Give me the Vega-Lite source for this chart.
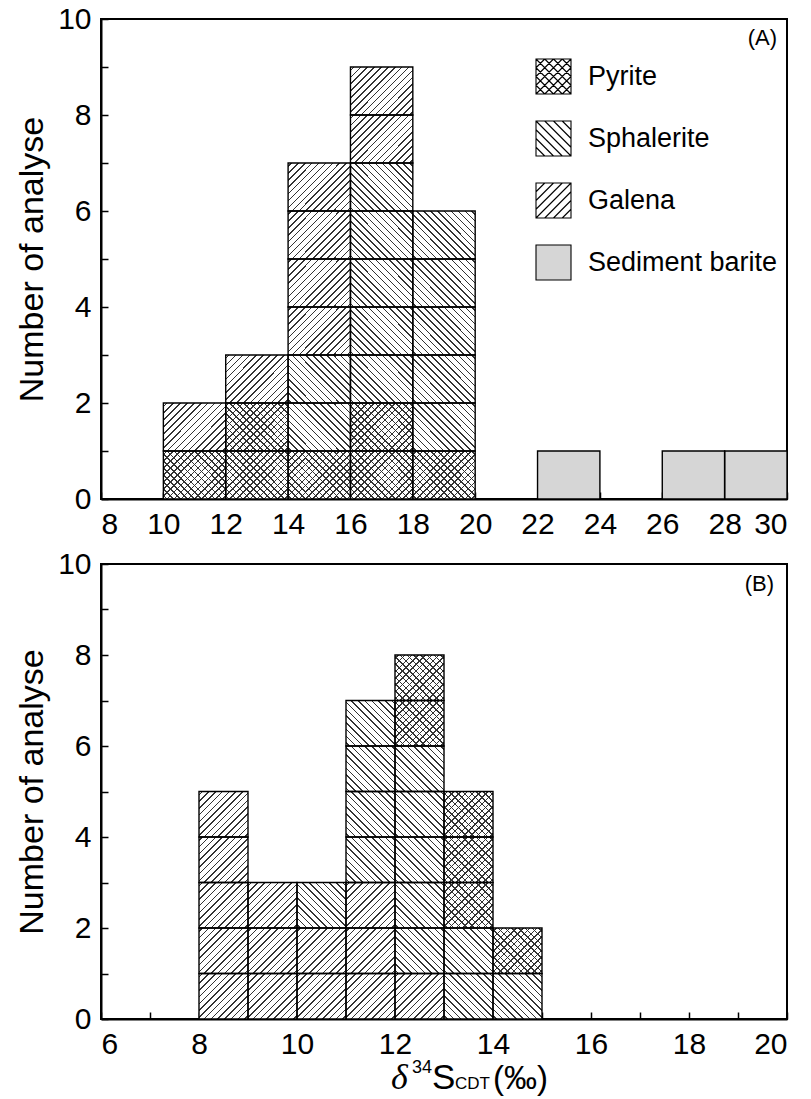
{
  "$schema": "https://vega.github.io/schema/vega-lite/v6.json",
  "padding": {"left": 14, "top": 3, "right": 0, "bottom": 0},
  "spacing": 8,
  "config": {
    "font": "Liberation Sans",
    "view": {"stroke": "black", "strokeWidth": 2},
    "axis": {
      "grid": false,
      "labelFont": "Liberation Sans",
      "labelFontSize": 30,
      "labelColor": "black",
      "titleFont": "Liberation Sans",
      "titleFontSize": 34,
      "titleFontWeight": "normal",
      "titleColor": "black",
      "domainColor": "black",
      "domainWidth": 2,
      "tickColor": "black",
      "tickWidth": 1.5,
      "tickSize": -7,
      "labelPadding": 17,
      "titlePadding": 8,
      "labelOverlap": false
    }
  },
  "vconcat": [
    {
      "width": 686,
      "height": 480,
      "layer": [
        {
          "data": {"values": [
            {"lo": 10, "hi": 12, "mineral": "Pyrite", "n": 1},
            {"lo": 10, "hi": 12, "mineral": "Galena", "n": 1},
            {"lo": 12, "hi": 14, "mineral": "Pyrite", "n": 1},
            {"lo": 12, "hi": 14, "mineral": "Pyrite", "n": 1},
            {"lo": 12, "hi": 14, "mineral": "Galena", "n": 1},
            {"lo": 14, "hi": 16, "mineral": "Pyrite", "n": 1},
            {"lo": 14, "hi": 16, "mineral": "Sphalerite", "n": 1},
            {"lo": 14, "hi": 16, "mineral": "Sphalerite", "n": 1},
            {"lo": 14, "hi": 16, "mineral": "Galena", "n": 1},
            {"lo": 14, "hi": 16, "mineral": "Galena", "n": 1},
            {"lo": 14, "hi": 16, "mineral": "Galena", "n": 1},
            {"lo": 14, "hi": 16, "mineral": "Galena", "n": 1},
            {"lo": 16, "hi": 18, "mineral": "Pyrite", "n": 1},
            {"lo": 16, "hi": 18, "mineral": "Pyrite", "n": 1},
            {"lo": 16, "hi": 18, "mineral": "Sphalerite", "n": 1},
            {"lo": 16, "hi": 18, "mineral": "Sphalerite", "n": 1},
            {"lo": 16, "hi": 18, "mineral": "Sphalerite", "n": 1},
            {"lo": 16, "hi": 18, "mineral": "Sphalerite", "n": 1},
            {"lo": 16, "hi": 18, "mineral": "Sphalerite", "n": 1},
            {"lo": 16, "hi": 18, "mineral": "Galena", "n": 1},
            {"lo": 16, "hi": 18, "mineral": "Galena", "n": 1},
            {"lo": 18, "hi": 20, "mineral": "Pyrite", "n": 1},
            {"lo": 18, "hi": 20, "mineral": "Sphalerite", "n": 1},
            {"lo": 18, "hi": 20, "mineral": "Sphalerite", "n": 1},
            {"lo": 18, "hi": 20, "mineral": "Sphalerite", "n": 1},
            {"lo": 18, "hi": 20, "mineral": "Sphalerite", "n": 1},
            {"lo": 18, "hi": 20, "mineral": "Sphalerite", "n": 1},
            {"lo": 22, "hi": 24, "mineral": "Sediment barite", "n": 1},
            {"lo": 26, "hi": 28, "mineral": "Sediment barite", "n": 1},
            {"lo": 28, "hi": 30, "mineral": "Sediment barite", "n": 1}
          ]},
          "transform": [
            {"calculate": "indexof(['Pyrite','Sphalerite','Galena','Sediment barite'], datum.mineral)", "as": "rank"},
            {"stack": "n", "groupby": ["lo"], "sort": [{"field": "rank", "order": "ascending"}], "as": ["y0", "y1"]}
          ],
          "encoding": {
            "x": {"field": "lo", "type": "quantitative", "scale": {"domain": [8, 30], "nice": false, "zero": false},
                  "axis": {"values": [8, 10, 12, 14, 16, 18, 20, 22, 24, 26, 28, 30], "title": null}},
            "x2": {"field": "hi"},
            "y": {"field": "y0", "type": "quantitative", "scale": {"domain": [0, 10], "nice": false},
                  "axis": {"values": [0, 1, 2, 3, 4, 5, 6, 7, 8, 9, 10], "labelExpr": "datum.value % 2 === 0 ? datum.label : ''", "title": "Number of analyse"}},
            "y2": {"field": "y1"}
          },
          "layer": [
            {
              "mark": {"type": "bar", "strokeWidth": 0},
              "encoding": {
                "fill": {"field": "mineral", "type": "nominal",
                  "scale": {"domain": ["Pyrite", "Sphalerite", "Galena", "Sediment barite"], "range": ["white", "white", "white", "#d6d6d6"]},
                  "legend": {
                    "orient": "top-right",
                    "offset": 9,
                    "padding": 0,
                    "title": "(A)",
                    "titleAnchor": "end",
                    "titleAlign": "right",
                    "titleFont": "Liberation Sans",
                    "titleFontSize": 22,
                    "titleFontWeight": "normal",
                    "titleColor": "black",
                    "titlePadding": 8,
                    "labelFont": "Liberation Sans",
                    "labelFontSize": 27,
                    "labelColor": "black",
                    "labelLimit": 400,
                    "labelOffset": 16,
                    "rowPadding": 21,
                    "symbolSize": 1225,
                    "symbolStrokeColor": "black",
                    "symbolStrokeWidth": 1.1,
                    "encode": {
                      "symbols": {"update": {"shape": {"signal": "datum.value === 'Pyrite' ? 'M-1,-1L1,-1L1,1L-1,1ZM-0.5,-1L-1,-0.5M0,-1L-1,0M0.5,-1L-1,0.5M1,-1L-1,1M1,-0.5L-0.5,1M1,0L0,1M1,0.5L0.5,1M-1,0.5L-0.5,1M-1,0L0,1M-1,-0.5L0.5,1M-1,-1L1,1M-0.5,-1L1,0.5M0,-1L1,0M0.5,-1L1,-0.5' : datum.value === 'Sphalerite' ? 'M-1,-1L1,-1L1,1L-1,1ZM-1,0.5L-0.5,1M-1,0L0,1M-1,-0.5L0.5,1M-1,-1L1,1M-0.5,-1L1,0.5M0,-1L1,0M0.5,-1L1,-0.5' : datum.value === 'Galena' ? 'M-1,-1L1,-1L1,1L-1,1ZM-0.5,-1L-1,-0.5M0,-1L-1,0M0.5,-1L-1,0.5M1,-1L-1,1M1,-0.5L-0.5,1M1,0L0,1M1,0.5L0.5,1' : 'M-1,-1L1,-1L1,1L-1,1Z'"}}}
                    }
                  }
                }
              }
            },
            {
              "transform": [{"filter": "datum.mineral === 'Galena' || datum.mineral === 'Pyrite'"}],
              "mark": {"type": "bar", "strokeWidth": 0, "fill": {"gradient": "linear", "x1": 0, "y1": 0, "x2": 1.1123, "y2": 0.8536, "stops": [
                {"offset": 0.0243, "color": "transparent"}, {"offset": 0.0243, "color": "#333"}, {"offset": 0.0383, "color": "#333"}, {"offset": 0.0383, "color": "transparent"},
                {"offset": 0.0868, "color": "transparent"}, {"offset": 0.0868, "color": "#333"}, {"offset": 0.1008, "color": "#333"}, {"offset": 0.1008, "color": "transparent"},
                {"offset": 0.1493, "color": "transparent"}, {"offset": 0.1493, "color": "#333"}, {"offset": 0.1633, "color": "#333"}, {"offset": 0.1633, "color": "transparent"},
                {"offset": 0.2118, "color": "transparent"}, {"offset": 0.2118, "color": "#333"}, {"offset": 0.2258, "color": "#333"}, {"offset": 0.2258, "color": "transparent"},
                {"offset": 0.2743, "color": "transparent"}, {"offset": 0.2743, "color": "#333"}, {"offset": 0.2883, "color": "#333"}, {"offset": 0.2883, "color": "transparent"},
                {"offset": 0.3368, "color": "transparent"}, {"offset": 0.3368, "color": "#333"}, {"offset": 0.3508, "color": "#333"}, {"offset": 0.3508, "color": "transparent"},
                {"offset": 0.3993, "color": "transparent"}, {"offset": 0.3993, "color": "#333"}, {"offset": 0.4133, "color": "#333"}, {"offset": 0.4133, "color": "transparent"},
                {"offset": 0.4618, "color": "transparent"}, {"offset": 0.4618, "color": "#333"}, {"offset": 0.4758, "color": "#333"}, {"offset": 0.4758, "color": "transparent"},
                {"offset": 0.5243, "color": "transparent"}, {"offset": 0.5243, "color": "#333"}, {"offset": 0.5383, "color": "#333"}, {"offset": 0.5383, "color": "transparent"},
                {"offset": 0.5868, "color": "transparent"}, {"offset": 0.5868, "color": "#333"}, {"offset": 0.6008, "color": "#333"}, {"offset": 0.6008, "color": "transparent"},
                {"offset": 0.6493, "color": "transparent"}, {"offset": 0.6493, "color": "#333"}, {"offset": 0.6633, "color": "#333"}, {"offset": 0.6633, "color": "transparent"},
                {"offset": 0.7118, "color": "transparent"}, {"offset": 0.7118, "color": "#333"}, {"offset": 0.7258, "color": "#333"}, {"offset": 0.7258, "color": "transparent"},
                {"offset": 0.7743, "color": "transparent"}, {"offset": 0.7743, "color": "#333"}, {"offset": 0.7883, "color": "#333"}, {"offset": 0.7883, "color": "transparent"},
                {"offset": 0.8368, "color": "transparent"}, {"offset": 0.8368, "color": "#333"}, {"offset": 0.8508, "color": "#333"}, {"offset": 0.8508, "color": "transparent"},
                {"offset": 0.8993, "color": "transparent"}, {"offset": 0.8993, "color": "#333"}, {"offset": 0.9133, "color": "#333"}, {"offset": 0.9133, "color": "transparent"},
                {"offset": 0.9618, "color": "transparent"}, {"offset": 0.9618, "color": "#333"}, {"offset": 0.9758, "color": "#333"}, {"offset": 0.9758, "color": "transparent"}
              ]}}
            },
            {
              "transform": [{"filter": "datum.mineral === 'Sphalerite' || datum.mineral === 'Pyrite'"}],
              "mark": {"type": "bar", "strokeWidth": 0, "fill": {"gradient": "linear", "x1": 0, "y1": 1, "x2": 1.1123, "y2": 0.1464, "stops": [
                {"offset": 0.0243, "color": "transparent"}, {"offset": 0.0243, "color": "#333"}, {"offset": 0.0383, "color": "#333"}, {"offset": 0.0383, "color": "transparent"},
                {"offset": 0.0868, "color": "transparent"}, {"offset": 0.0868, "color": "#333"}, {"offset": 0.1008, "color": "#333"}, {"offset": 0.1008, "color": "transparent"},
                {"offset": 0.1493, "color": "transparent"}, {"offset": 0.1493, "color": "#333"}, {"offset": 0.1633, "color": "#333"}, {"offset": 0.1633, "color": "transparent"},
                {"offset": 0.2118, "color": "transparent"}, {"offset": 0.2118, "color": "#333"}, {"offset": 0.2258, "color": "#333"}, {"offset": 0.2258, "color": "transparent"},
                {"offset": 0.2743, "color": "transparent"}, {"offset": 0.2743, "color": "#333"}, {"offset": 0.2883, "color": "#333"}, {"offset": 0.2883, "color": "transparent"},
                {"offset": 0.3368, "color": "transparent"}, {"offset": 0.3368, "color": "#333"}, {"offset": 0.3508, "color": "#333"}, {"offset": 0.3508, "color": "transparent"},
                {"offset": 0.3993, "color": "transparent"}, {"offset": 0.3993, "color": "#333"}, {"offset": 0.4133, "color": "#333"}, {"offset": 0.4133, "color": "transparent"},
                {"offset": 0.4618, "color": "transparent"}, {"offset": 0.4618, "color": "#333"}, {"offset": 0.4758, "color": "#333"}, {"offset": 0.4758, "color": "transparent"},
                {"offset": 0.5243, "color": "transparent"}, {"offset": 0.5243, "color": "#333"}, {"offset": 0.5383, "color": "#333"}, {"offset": 0.5383, "color": "transparent"},
                {"offset": 0.5868, "color": "transparent"}, {"offset": 0.5868, "color": "#333"}, {"offset": 0.6008, "color": "#333"}, {"offset": 0.6008, "color": "transparent"},
                {"offset": 0.6493, "color": "transparent"}, {"offset": 0.6493, "color": "#333"}, {"offset": 0.6633, "color": "#333"}, {"offset": 0.6633, "color": "transparent"},
                {"offset": 0.7118, "color": "transparent"}, {"offset": 0.7118, "color": "#333"}, {"offset": 0.7258, "color": "#333"}, {"offset": 0.7258, "color": "transparent"},
                {"offset": 0.7743, "color": "transparent"}, {"offset": 0.7743, "color": "#333"}, {"offset": 0.7883, "color": "#333"}, {"offset": 0.7883, "color": "transparent"},
                {"offset": 0.8368, "color": "transparent"}, {"offset": 0.8368, "color": "#333"}, {"offset": 0.8508, "color": "#333"}, {"offset": 0.8508, "color": "transparent"},
                {"offset": 0.8993, "color": "transparent"}, {"offset": 0.8993, "color": "#333"}, {"offset": 0.9133, "color": "#333"}, {"offset": 0.9133, "color": "transparent"},
                {"offset": 0.9618, "color": "transparent"}, {"offset": 0.9618, "color": "#333"}, {"offset": 0.9758, "color": "#333"}, {"offset": 0.9758, "color": "transparent"}
              ]}}
            },
            {
              "mark": {"type": "bar", "fill": "transparent", "stroke": "black", "strokeWidth": 1.4}
            }
          ]
        }
      ]
    },
    {
      "width": 686,
      "height": 455,
      "layer": [
        {
          "data": {"values": [
            {"lo": 8, "hi": 9, "mineral": "Galena", "n": 1},
            {"lo": 8, "hi": 9, "mineral": "Galena", "n": 1},
            {"lo": 8, "hi": 9, "mineral": "Galena", "n": 1},
            {"lo": 8, "hi": 9, "mineral": "Galena", "n": 1},
            {"lo": 8, "hi": 9, "mineral": "Galena", "n": 1},
            {"lo": 9, "hi": 10, "mineral": "Galena", "n": 1},
            {"lo": 9, "hi": 10, "mineral": "Galena", "n": 1},
            {"lo": 9, "hi": 10, "mineral": "Galena", "n": 1},
            {"lo": 10, "hi": 11, "mineral": "Galena", "n": 1},
            {"lo": 10, "hi": 11, "mineral": "Galena", "n": 1},
            {"lo": 10, "hi": 11, "mineral": "Sphalerite", "n": 1},
            {"lo": 11, "hi": 12, "mineral": "Galena", "n": 1},
            {"lo": 11, "hi": 12, "mineral": "Galena", "n": 1},
            {"lo": 11, "hi": 12, "mineral": "Galena", "n": 1},
            {"lo": 11, "hi": 12, "mineral": "Sphalerite", "n": 1},
            {"lo": 11, "hi": 12, "mineral": "Sphalerite", "n": 1},
            {"lo": 11, "hi": 12, "mineral": "Sphalerite", "n": 1},
            {"lo": 11, "hi": 12, "mineral": "Sphalerite", "n": 1},
            {"lo": 12, "hi": 13, "mineral": "Galena", "n": 1},
            {"lo": 12, "hi": 13, "mineral": "Sphalerite", "n": 1},
            {"lo": 12, "hi": 13, "mineral": "Sphalerite", "n": 1},
            {"lo": 12, "hi": 13, "mineral": "Sphalerite", "n": 1},
            {"lo": 12, "hi": 13, "mineral": "Sphalerite", "n": 1},
            {"lo": 12, "hi": 13, "mineral": "Sphalerite", "n": 1},
            {"lo": 12, "hi": 13, "mineral": "Pyrite", "n": 1},
            {"lo": 12, "hi": 13, "mineral": "Pyrite", "n": 1},
            {"lo": 13, "hi": 14, "mineral": "Sphalerite", "n": 1},
            {"lo": 13, "hi": 14, "mineral": "Sphalerite", "n": 1},
            {"lo": 13, "hi": 14, "mineral": "Pyrite", "n": 1},
            {"lo": 13, "hi": 14, "mineral": "Pyrite", "n": 1},
            {"lo": 13, "hi": 14, "mineral": "Pyrite", "n": 1},
            {"lo": 14, "hi": 15, "mineral": "Sphalerite", "n": 1},
            {"lo": 14, "hi": 15, "mineral": "Pyrite", "n": 1}
          ]},
          "transform": [
            {"calculate": "indexof(['Galena','Sphalerite','Pyrite'], datum.mineral)", "as": "rank"},
            {"stack": "n", "groupby": ["lo"], "sort": [{"field": "rank", "order": "ascending"}], "as": ["y0", "y1"]}
          ],
          "encoding": {
            "x": {"field": "lo", "type": "quantitative", "scale": {"domain": [6, 20], "nice": false, "zero": false},
                  "axis": {"values": [6, 7, 8, 9, 10, 11, 12, 13, 14, 15, 16, 17, 18, 19, 20], "labelExpr": "datum.value % 2 === 0 ? datum.label : ''", "title": null}},
            "x2": {"field": "hi"},
            "y": {"field": "y0", "type": "quantitative", "scale": {"domain": [0, 10], "nice": false},
                  "axis": {"values": [0, 1, 2, 3, 4, 5, 6, 7, 8, 9, 10], "labelExpr": "datum.value % 2 === 0 ? datum.label : ''", "title": "Number of analyse"}},
            "y2": {"field": "y1"}
          },
          "layer": [
            {"mark": {"type": "bar", "fill": "white", "strokeWidth": 0}},
            {
              "transform": [{"filter": "datum.mineral === 'Galena' || datum.mineral === 'Pyrite'"}],
              "mark": {"type": "bar", "strokeWidth": 0, "fill": {"gradient": "linear", "x1": 0, "y1": 0, "x2": 1.0369, "y2": 0.9601, "stops": [
                {"offset": 0.0275, "color": "transparent"}, {"offset": 0.0275, "color": "#333"}, {"offset": 0.0439, "color": "#333"}, {"offset": 0.0439, "color": "transparent"},
                {"offset": 0.0989, "color": "transparent"}, {"offset": 0.0989, "color": "#333"}, {"offset": 0.1153, "color": "#333"}, {"offset": 0.1153, "color": "transparent"},
                {"offset": 0.1704, "color": "transparent"}, {"offset": 0.1704, "color": "#333"}, {"offset": 0.1868, "color": "#333"}, {"offset": 0.1868, "color": "transparent"},
                {"offset": 0.2418, "color": "transparent"}, {"offset": 0.2418, "color": "#333"}, {"offset": 0.2582, "color": "#333"}, {"offset": 0.2582, "color": "transparent"},
                {"offset": 0.3132, "color": "transparent"}, {"offset": 0.3132, "color": "#333"}, {"offset": 0.3296, "color": "#333"}, {"offset": 0.3296, "color": "transparent"},
                {"offset": 0.3847, "color": "transparent"}, {"offset": 0.3847, "color": "#333"}, {"offset": 0.4011, "color": "#333"}, {"offset": 0.4011, "color": "transparent"},
                {"offset": 0.4561, "color": "transparent"}, {"offset": 0.4561, "color": "#333"}, {"offset": 0.4725, "color": "#333"}, {"offset": 0.4725, "color": "transparent"},
                {"offset": 0.5275, "color": "transparent"}, {"offset": 0.5275, "color": "#333"}, {"offset": 0.5439, "color": "#333"}, {"offset": 0.5439, "color": "transparent"},
                {"offset": 0.5989, "color": "transparent"}, {"offset": 0.5989, "color": "#333"}, {"offset": 0.6153, "color": "#333"}, {"offset": 0.6153, "color": "transparent"},
                {"offset": 0.6704, "color": "transparent"}, {"offset": 0.6704, "color": "#333"}, {"offset": 0.6868, "color": "#333"}, {"offset": 0.6868, "color": "transparent"},
                {"offset": 0.7418, "color": "transparent"}, {"offset": 0.7418, "color": "#333"}, {"offset": 0.7582, "color": "#333"}, {"offset": 0.7582, "color": "transparent"},
                {"offset": 0.8132, "color": "transparent"}, {"offset": 0.8132, "color": "#333"}, {"offset": 0.8296, "color": "#333"}, {"offset": 0.8296, "color": "transparent"},
                {"offset": 0.8847, "color": "transparent"}, {"offset": 0.8847, "color": "#333"}, {"offset": 0.9011, "color": "#333"}, {"offset": 0.9011, "color": "transparent"},
                {"offset": 0.9561, "color": "transparent"}, {"offset": 0.9561, "color": "#333"}, {"offset": 0.9725, "color": "#333"}, {"offset": 0.9725, "color": "transparent"}
              ]}}
            },
            {
              "transform": [{"filter": "datum.mineral === 'Sphalerite' || datum.mineral === 'Pyrite'"}],
              "mark": {"type": "bar", "strokeWidth": 0, "fill": {"gradient": "linear", "x1": 0, "y1": 1, "x2": 1.0369, "y2": 0.0399, "stops": [
                {"offset": 0.0275, "color": "transparent"}, {"offset": 0.0275, "color": "#333"}, {"offset": 0.0439, "color": "#333"}, {"offset": 0.0439, "color": "transparent"},
                {"offset": 0.0989, "color": "transparent"}, {"offset": 0.0989, "color": "#333"}, {"offset": 0.1153, "color": "#333"}, {"offset": 0.1153, "color": "transparent"},
                {"offset": 0.1704, "color": "transparent"}, {"offset": 0.1704, "color": "#333"}, {"offset": 0.1868, "color": "#333"}, {"offset": 0.1868, "color": "transparent"},
                {"offset": 0.2418, "color": "transparent"}, {"offset": 0.2418, "color": "#333"}, {"offset": 0.2582, "color": "#333"}, {"offset": 0.2582, "color": "transparent"},
                {"offset": 0.3132, "color": "transparent"}, {"offset": 0.3132, "color": "#333"}, {"offset": 0.3296, "color": "#333"}, {"offset": 0.3296, "color": "transparent"},
                {"offset": 0.3847, "color": "transparent"}, {"offset": 0.3847, "color": "#333"}, {"offset": 0.4011, "color": "#333"}, {"offset": 0.4011, "color": "transparent"},
                {"offset": 0.4561, "color": "transparent"}, {"offset": 0.4561, "color": "#333"}, {"offset": 0.4725, "color": "#333"}, {"offset": 0.4725, "color": "transparent"},
                {"offset": 0.5275, "color": "transparent"}, {"offset": 0.5275, "color": "#333"}, {"offset": 0.5439, "color": "#333"}, {"offset": 0.5439, "color": "transparent"},
                {"offset": 0.5989, "color": "transparent"}, {"offset": 0.5989, "color": "#333"}, {"offset": 0.6153, "color": "#333"}, {"offset": 0.6153, "color": "transparent"},
                {"offset": 0.6704, "color": "transparent"}, {"offset": 0.6704, "color": "#333"}, {"offset": 0.6868, "color": "#333"}, {"offset": 0.6868, "color": "transparent"},
                {"offset": 0.7418, "color": "transparent"}, {"offset": 0.7418, "color": "#333"}, {"offset": 0.7582, "color": "#333"}, {"offset": 0.7582, "color": "transparent"},
                {"offset": 0.8132, "color": "transparent"}, {"offset": 0.8132, "color": "#333"}, {"offset": 0.8296, "color": "#333"}, {"offset": 0.8296, "color": "transparent"},
                {"offset": 0.8847, "color": "transparent"}, {"offset": 0.8847, "color": "#333"}, {"offset": 0.9011, "color": "#333"}, {"offset": 0.9011, "color": "transparent"},
                {"offset": 0.9561, "color": "transparent"}, {"offset": 0.9561, "color": "#333"}, {"offset": 0.9725, "color": "#333"}, {"offset": 0.9725, "color": "transparent"}
              ]}}
            },
            {"mark": {"type": "bar", "fill": "transparent", "stroke": "black", "strokeWidth": 1.4}}
          ]
        },
        {
          "data": {"values": [{}]},
          "mark": {"type": "text", "text": "(B)", "font": "Liberation Sans", "fontSize": 22, "align": "right", "baseline": "top", "dx": -13, "dy": 10, "color": "black"},
          "encoding": {"x": {"datum": 20}, "y": {"datum": 10}}
        },
        {
          "data": {"values": [{}]},
          "mark": {"type": "text", "text": "δ", "font": "Liberation Serif", "fontStyle": "italic", "fontSize": 36, "align": "left", "baseline": "alphabetic", "dx": -53, "dy": 70, "color": "black"},
          "encoding": {"x": {"datum": 13}, "y": {"datum": 0}}
        },
        {
          "data": {"values": [{}]},
          "mark": {"type": "text", "text": "34", "font": "Liberation Sans", "fontSize": 18, "align": "left", "baseline": "alphabetic", "dx": -32, "dy": 54, "color": "black"},
          "encoding": {"x": {"datum": 13}, "y": {"datum": 0}}
        },
        {
          "data": {"values": [{}]},
          "mark": {"type": "text", "text": "S", "font": "Liberation Sans", "fontSize": 35, "align": "left", "baseline": "alphabetic", "dx": -12, "dy": 70, "color": "black"},
          "encoding": {"x": {"datum": 13}, "y": {"datum": 0}}
        },
        {
          "data": {"values": [{}]},
          "mark": {"type": "text", "text": "CDT", "font": "Liberation Sans", "fontSize": 17, "align": "left", "baseline": "alphabetic", "dx": 11, "dy": 70, "color": "black"},
          "encoding": {"x": {"datum": 13}, "y": {"datum": 0}}
        },
        {
          "data": {"values": [{}]},
          "mark": {"type": "text", "text": "(‰)", "font": "Liberation Sans", "fontSize": 33, "align": "left", "baseline": "alphabetic", "dx": 49, "dy": 70, "color": "black"},
          "encoding": {"x": {"datum": 13}, "y": {"datum": 0}}
        }
      ]
    }
  ]
}
